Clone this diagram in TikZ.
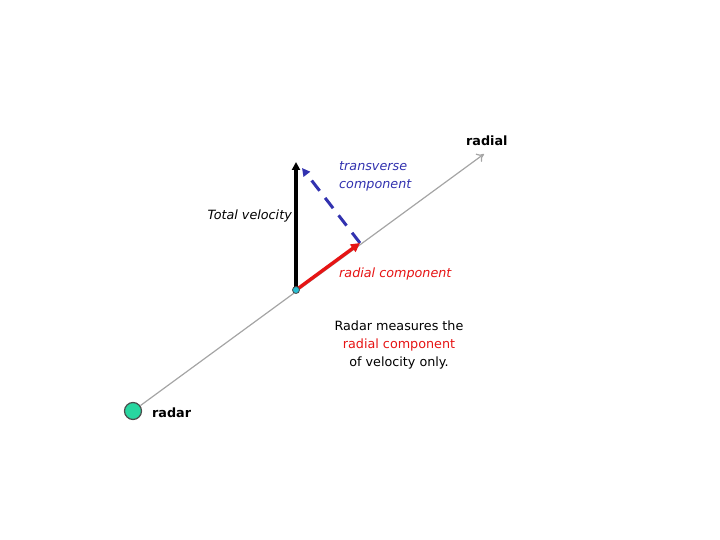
\documentclass[tikz,border=0pt]{standalone}
\usepackage{fontspec}
\setmainfont{DejaVu Sans}
\usetikzlibrary{positioning,arrows.meta}
\definecolor{radargreen}{RGB}{40,214,160}
\definecolor{pointcyan}{RGB}{40,190,210}
\definecolor{trvblue}{RGB}{50,50,175}
\definecolor{radred}{RGB}{230,20,20}
\definecolor{axisgrey}{RGB}{165,165,165}
\tikzset{
  lbl/.style   ={font=\fontsize{12.8}{18.5}\selectfont, inner sep=0pt},
  ilbl/.style  ={lbl, font=\fontsize{12.8}{19}\selectfont\itshape},
  blbl/.style  ={lbl, font=\fontsize{12.8}{18.5}\selectfont\bfseries},
  ax/.style    ={draw=axisgrey, line width=1.2bp, -{To[length=7bp,width=10bp]}},
  vel/.style   ={draw=black, line width=3.2bp, -{Triangle[length=8bp,width=8bp]}},
  rad/.style   ={draw=radred, line width=3.4bp, -{Triangle[length=9bp,width=9bp]}},
  trv/.style   ={draw=trvblue, line width=3bp, dash pattern=on 13bp off 9bp,
                 -{Triangle[length=8bp,width=8bp]}},
  dot/.style   ={circle, draw=black!70, inner sep=0pt},
}
\begin{document}
\begin{tikzpicture}[x=1bp,y=-1bp]
\useasboundingbox (0,0) rectangle (720,540);
\node[dot,fill=radargreen,line width=1.2bp,minimum size=17bp] (radar) at (133,411) {};
\coordinate (obj) at (296,290);
\coordinate (tip) at (484,154);
\coordinate (radend) at (360,243);
\coordinate (totend) at (296,162);
\coordinate (trvend) at (302,168);

\draw[ax] (radar) -- (tip);
\draw[vel] (obj) -- (totend);
\draw[trv] (radend) -- (trvend);
\draw[rad] (obj) -- (radend);
\node[dot,fill=pointcyan,line width=0.8bp,minimum size=7bp] (objdot) at (obj) {};

\node[blbl,anchor=west] (radlbl) at (466,141) {radial};
\node[blbl,anchor=west] (radarlbl) at (152,413) {radar};
\node[ilbl,anchor=east] (totlbl) at (292,216) {Total velocity};
\node[ilbl,text=trvblue,align=left,anchor=base west] (trvlbl) at (339,189) {transverse\\component};
\node[ilbl,text=radred,anchor=west] (radcomp) at (339,274) {radial component};
\node[lbl,align=center] (note) at (399,345) {Radar measures the\\\textcolor{radred}{radial component}\\of velocity only.};
\end{tikzpicture}
\end{document}
